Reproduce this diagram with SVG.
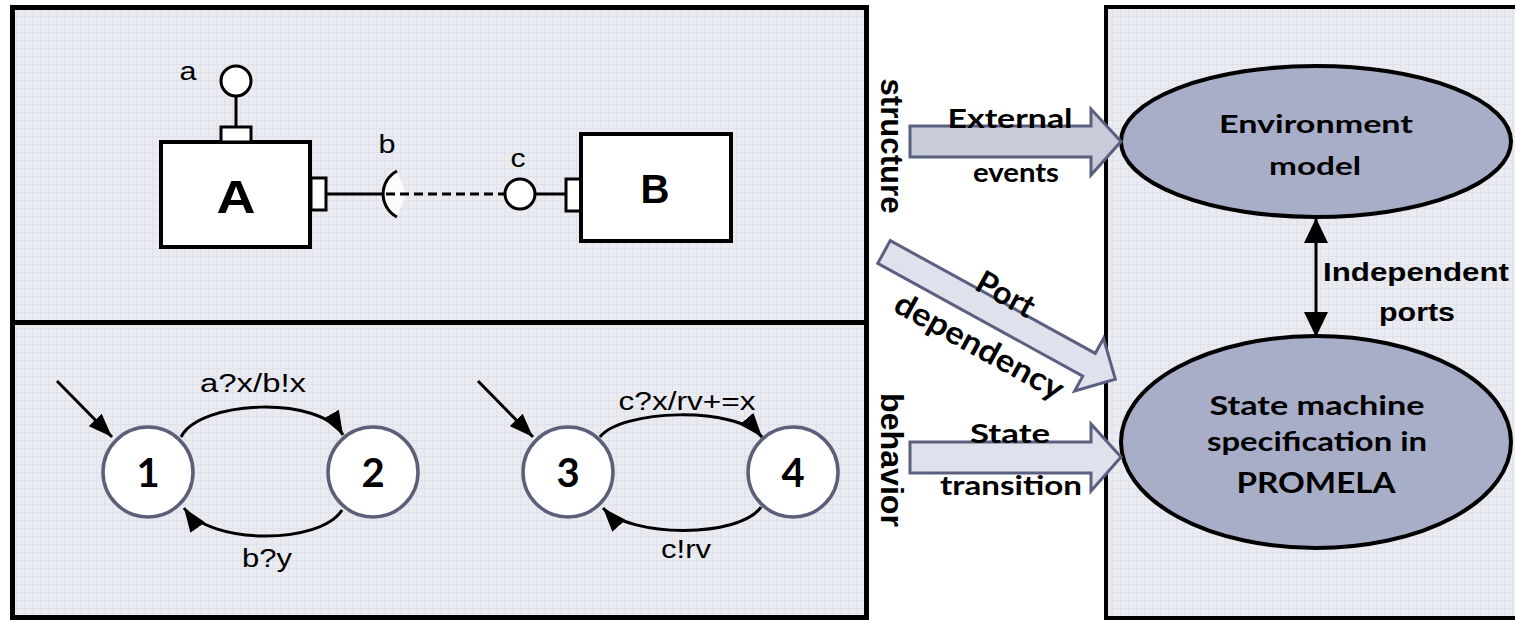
<svg xmlns="http://www.w3.org/2000/svg" width="1515" height="622" viewBox="0 0 1515 622">
<style>
.lbl{font-family:"Liberation Sans",Arial,sans-serif;font-size:26px;fill:#000;text-anchor:middle}
.big{font-family:"Liberation Sans",Arial,sans-serif;font-weight:bold;fill:#000;text-anchor:middle}
.gs{font-family:Lato,"Open Sans",sans-serif;font-weight:bold;fill:#000;text-anchor:middle}
.ln{stroke:#000;stroke-width:3;fill:none}
.box{stroke:#000;stroke-width:4;fill:#fff}
.port{stroke:#000;stroke-width:3;fill:#fff}
.st{stroke:#5b5f78;stroke-width:3.5;fill:#fff}
.blk{stroke:#5b6080;stroke-width:3;stroke-linejoin:miter}
.ell{fill:#a9aec8;stroke:#000;stroke-width:4}
</style>
<defs>
<pattern id="tex" width="8" height="8" patternUnits="userSpaceOnUse">
<rect width="8" height="8" fill="#e9ebf1"/>
<path d="M0 0.5H8M0.5 0V8" stroke="#dfe2ea" stroke-width="1"/>
</pattern>
<marker id="ah" markerUnits="userSpaceOnUse" markerWidth="26" markerHeight="18" refX="24" refY="9" orient="auto">
<path d="M0 0L24 9L0 18Z" fill="#000"/>
</marker>
<marker id="ah2" markerUnits="userSpaceOnUse" markerWidth="26" markerHeight="24" refX="25" refY="12" orient="auto-start-reverse">
<path d="M0 0L25 12L0 24Z" fill="#000"/>
</marker>
</defs>

<g id="panels">
<rect x="12.5" y="7.5" width="854" height="610" fill="url(#tex)" stroke="#000" stroke-width="5"/>
<line x1="12.5" y1="322.5" x2="866.5" y2="322.5" stroke="#000" stroke-width="5"/>
<rect x="1106" y="7" width="420" height="611" fill="url(#tex)" stroke="#000" stroke-width="4"/>
</g>

<g id="component-A">
<rect class="box" x="161" y="142" width="149" height="105"/>
<text class="big" x="236" y="213" font-size="46" textLength="39" lengthAdjust="spacingAndGlyphs">A</text>
<rect class="port" x="221" y="127" width="30" height="15"/>
<rect class="port" x="311" y="178" width="15" height="32"/>
</g>
<g id="port-a">
<line class="ln" x1="236" y1="96" x2="236" y2="127"/>
<circle class="port" cx="236" cy="81" r="15"/>
<text class="lbl" x="188" y="80" textLength="17" lengthAdjust="spacingAndGlyphs">a</text>
</g>
<g id="port-b">
<line class="ln" x1="326" y1="194" x2="384" y2="194"/>
<path d="M397 171A26 26 0 0 0 397 217L406 194Z" fill="#fff" opacity="0.85"/>
<path class="ln" d="M397 171A26 26 0 0 0 397 217"/>
<text class="lbl" x="387" y="153" textLength="17" lengthAdjust="spacingAndGlyphs">b</text>
</g>
<g id="port-c">
<circle class="port" cx="520" cy="194" r="15"/>
<line class="ln" x1="535" y1="194" x2="566" y2="194"/>
<text class="lbl" x="518" y="167" textLength="15" lengthAdjust="spacingAndGlyphs">c</text>
</g>
<g id="component-B">
<rect class="port" x="566" y="179" width="15" height="32"/>
<rect class="box" x="581" y="134" width="150" height="107"/>
<text class="big" x="655" y="203" font-size="40" textLength="29" lengthAdjust="spacingAndGlyphs">B</text>
</g>

<g id="state-1"><circle class="st" cx="148" cy="472" r="45"/><text class="gs" x="148" y="487" font-size="40">1</text></g>
<g id="state-2"><circle class="st" cx="373" cy="472" r="45"/><text class="gs" x="373" y="487" font-size="40">2</text></g>
<g id="state-3"><circle class="st" cx="568" cy="472" r="45"/><text class="gs" x="568" y="487" font-size="40">3</text></g>
<g id="state-4"><circle class="st" cx="793" cy="472" r="45"/><text class="gs" x="793" y="487" font-size="40">4</text></g>

<g id="env-model">
<ellipse class="ell" cx="1316" cy="141.5" rx="195" ry="75.5"/>
<text class="gs" x="1316" y="133" font-size="25" textLength="194" lengthAdjust="spacingAndGlyphs">Environment</text>
<text class="gs" x="1315" y="175" font-size="25" textLength="92" lengthAdjust="spacingAndGlyphs">model</text>
</g>
<g id="state-machine">
<ellipse class="ell" cx="1316" cy="442" rx="195" ry="106"/>
<text class="gs" x="1317" y="415" font-size="27" textLength="215" lengthAdjust="spacingAndGlyphs">State machine</text>
<text class="gs" x="1317" y="451" font-size="27" textLength="220" lengthAdjust="spacingAndGlyphs">specification in</text>
<text class="gs" x="1316" y="493" font-size="28" textLength="159" lengthAdjust="spacingAndGlyphs">PROMELA</text>
</g>

<g id="side-labels">
<text class="big" font-size="31" transform="translate(881 146) rotate(90)" textLength="135" lengthAdjust="spacingAndGlyphs">structure</text>
<text class="big" font-size="31" transform="translate(881 460) rotate(90)" textLength="134" lengthAdjust="spacingAndGlyphs">behavior</text>
</g>

<g id="connectors">
<path class="blk" fill="#c7cbda" d="M910 126L1091 126L1091 109L1121 141.5L1091 175L1091 157L910 157Z"/>
<text class="gs" x="1010" y="128" font-size="27" textLength="125" lengthAdjust="spacingAndGlyphs">External</text>
<text class="gs" x="1016" y="182" font-size="27" textLength="86" lengthAdjust="spacingAndGlyphs">events</text>

<path class="blk" fill="#dfe2ec" d="M910 442L1091 442L1091 424L1121 457L1091 491L1091 473L910 473Z"/>
<text class="gs" x="1010" y="443" font-size="27" textLength="80" lengthAdjust="spacingAndGlyphs">State</text>
<text class="gs" x="1011" y="495" font-size="27" textLength="142" lengthAdjust="spacingAndGlyphs">transition</text>

<g transform="translate(884 252) rotate(28.8)">
<path class="blk" fill="#dfe2ec" d="M0 -13L234 -13L234 -30L264 0L234 30L234 13L0 13Z"/>
<text class="gs" x="127" y="-23" font-size="32" dominant-baseline="central" textLength="62" lengthAdjust="spacingAndGlyphs">Port</text>
<text class="gs" x="129" y="35" font-size="32" dominant-baseline="central" textLength="188" lengthAdjust="spacingAndGlyphs">dependency</text>
</g>

<line x1="1316" y1="218" x2="1316" y2="337" stroke="#000" stroke-width="3" marker-start="url(#ah2)" marker-end="url(#ah2)"/>
<text class="big" x="1416" y="281" font-size="26" textLength="186" lengthAdjust="spacingAndGlyphs">Independent</text>
<text class="big" x="1417" y="321" font-size="26" textLength="76" lengthAdjust="spacingAndGlyphs">ports</text>

<line x1="386" y1="194" x2="504" y2="194" stroke="#000" stroke-width="3" stroke-dasharray="9 5"/>

<line class="ln" x1="57" y1="381" x2="112" y2="437" marker-end="url(#ah)"/>
<line class="ln" x1="478" y1="381" x2="533" y2="437" marker-end="url(#ah)"/>
<path class="ln" d="M181 437C200 400 320 395 343 435" marker-end="url(#ah)"/>
<path class="ln" d="M342 510C320 545 210 545 184 508" marker-end="url(#ah)"/>
<path class="ln" d="M600 437C620 410 735 405 762 437" marker-end="url(#ah)"/>
<path class="ln" d="M761 507C740 538 630 538 603 508" marker-end="url(#ah)"/>
<text class="lbl" x="253" y="392" textLength="106" lengthAdjust="spacingAndGlyphs">a?x/b!x</text>
<text class="lbl" x="267" y="567" textLength="50" lengthAdjust="spacingAndGlyphs">b?y</text>
<text class="lbl" x="687" y="410" textLength="137" lengthAdjust="spacingAndGlyphs">c?x/rv+=x</text>
<text class="lbl" x="686" y="558" textLength="50" lengthAdjust="spacingAndGlyphs">c!rv</text>
</g>
</svg>
